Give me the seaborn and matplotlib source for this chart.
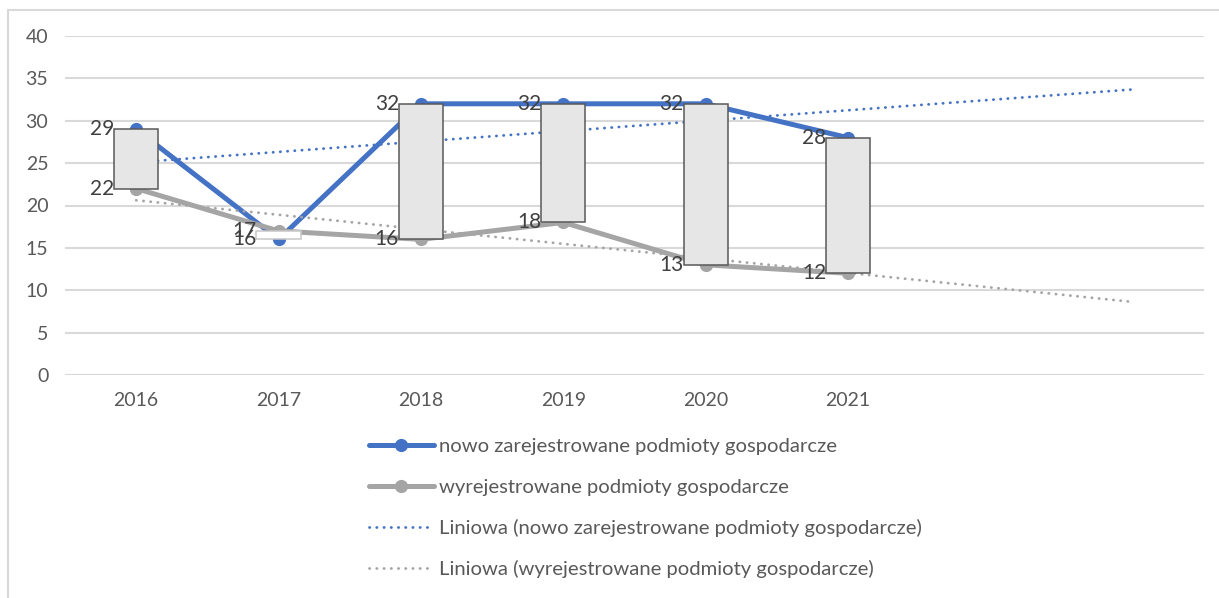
import numpy as np
import pandas as pd
import seaborn as sns
import matplotlib.pyplot as plt
from matplotlib.lines import Line2D

# dane
lata = ['2016', '2017', '2018', '2019', '2020', '2021']
nowe = [29, 16, 32, 32, 32, 28]
wyrejestrowane = [22, 17, 16, 18, 13, 12]
etykieta_nowe = 'nowo zarejestrowane podmioty gospodarcze'
etykieta_wyrej = 'wyrejestrowane podmioty gospodarcze'

niebieski = '#4472C4'
szary = '#A5A5A5'

sns.set_style('white')
plt.rcParams['font.family'] = ['Lato', 'DejaVu Sans']

df = pd.DataFrame({'rok': lata, 'nowe': nowe, 'wyrej': wyrejestrowane})
df['poz'] = np.arange(len(df))

fig = plt.figure(figsize=(12.19, 5.98), dpi=100)
ax = fig.add_axes([65 / 1219, 1 - 375 / 598, (1204 - 65) / 1219, (375 - 36) / 598])

# linie serii
sns.lineplot(data=df, x='poz', y='nowe', color=niebieski, linewidth=3.6, marker='o',
             markersize=9.5, markeredgewidth=0, label=etykieta_nowe, ax=ax, zorder=2)
sns.lineplot(data=df, x='poz', y='wyrej', color=szary, linewidth=3.6, marker='o',
             markersize=9.5, markeredgewidth=0, label=etykieta_wyrej, ax=ax, zorder=2)

# linie trendu (prognoza o 2 okresy do przodu)
x_tr = np.array([0, len(df) + 1])
for kol, c, nazwa in [('nowe', niebieski, etykieta_nowe), ('wyrej', szary, etykieta_wyrej)]:
    a, b = np.polyfit(df['poz'], df[kol], 1)
    sns.lineplot(x=x_tr, y=a * x_tr + b, color=c, linewidth=2.0, linestyle=(0, (0.1, 2.5)),
                 dash_capstyle='round', label=f'Liniowa ({nazwa})', ax=ax, zorder=2.5)

# slupki wzrostu/spadku
dol = np.minimum(df['nowe'], df['wyrej'])
wys = np.abs(df['nowe'] - df['wyrej'])
wzrost = df['nowe'] >= df['wyrej']
ax.bar(df['poz'], wys, bottom=dol, width=0.31,
       color=np.where(wzrost, '#E6E6E6', 'white'),
       edgecolor=np.where(wzrost, '#595959', '#C8C8C8'), linewidth=1.1, zorder=3)

# etykiety danych
for _, r in df.iterrows():
    for v in (r['nowe'], r['wyrej']):
        ax.annotate(str(v), (r['poz'], v), xytext=(-22, 0), textcoords='offset pixels',
                    ha='right', va='center', fontsize=15, color='#404040', zorder=4)

ax.set_xlim(-0.5, 7.5)
ax.set_ylim(0, 40)
ax.set_yticks(range(0, 41, 5))
ax.set_xticks(df['poz'], df['rok'])
ax.tick_params(axis='both', length=0, labelsize=14, labelcolor='#595959')
ax.tick_params(axis='y', pad=12)
ax.tick_params(axis='x', pad=12)
ax.grid(axis='y', color='#D9D9D9', linewidth=1.5)
ax.set_axisbelow(True)
ax.set_xlabel('')
ax.set_ylabel('')
sns.despine(ax=ax, left=True, bottom=True)

handles, labels = ax.get_legend_handles_labels()
ax.get_legend().remove()
fig.legend(handles, labels, loc='upper left', bbox_to_anchor=(369 / 1219, 1 - 438 / 598),
           frameon=False, fontsize=14.6, labelcolor='#595959', handlelength=3.2,
           handletextpad=0.25, labelspacing=1.15, borderpad=0, borderaxespad=0)

# obramowanie obszaru wykresu
fig.add_artist(Line2D([8 / 1219, 1], [1 - 10 / 598, 1 - 10 / 598], color='#D9D9D9', linewidth=1.5))
fig.add_artist(Line2D([8 / 1219, 8 / 1219], [0, 1 - 10 / 598], color='#D9D9D9', linewidth=1.5))

fig.savefig('out.png', dpi=100)
